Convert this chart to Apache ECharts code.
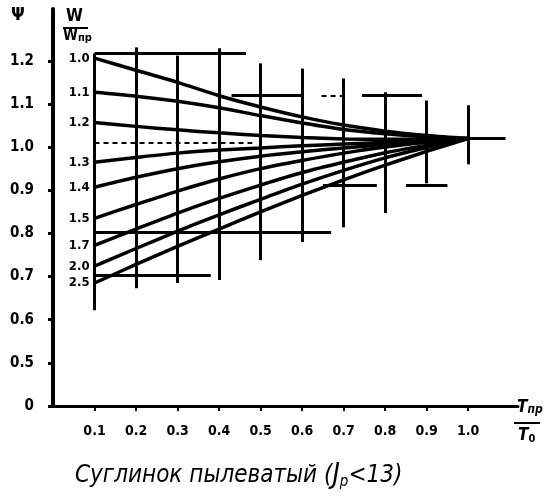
<!DOCTYPE html>
<html>
<head>
<meta charset="utf-8">
<script src="https://cdn.jsdelivr.net/npm/echarts@6/dist/echarts.min.js"></script>
<style>html,body{margin:0;padding:0;background:#fff;}#c{width:560px;height:501px;}</style>
</head>
<body>
<div id="c"></div>
<script>
// ---- data ----
const xValues = [0.1, 0.2, 0.3, 0.4, 0.5, 0.6, 0.7, 0.8, 0.9, 1.0];
const curveNames = ['1.0', '1.1', '1.2', '1.3', '1.4', '1.5', '1.7', '2.0', '2.5'];
const psi_1_0 = [1.206, 1.178, 1.150, 1.119, 1.093, 1.070, 1.051, 1.037, 1.027, 1.020];
const psi_1_1 = [1.127, 1.118, 1.106, 1.091, 1.073, 1.056, 1.041, 1.031, 1.024, 1.020];
const psi_1_2 = [1.057, 1.048, 1.040, 1.033, 1.027, 1.022, 1.019, 1.018, 1.018, 1.020];
const psi_1_3 = [0.965, 0.976, 0.986, 0.993, 0.998, 1.003, 1.007, 1.011, 1.016, 1.020];
const psi_1_4 = [0.907, 0.930, 0.950, 0.966, 0.979, 0.989, 0.998, 1.006, 1.013, 1.020];
const psi_1_5 = [0.835, 0.867, 0.898, 0.926, 0.950, 0.969, 0.986, 1.000, 1.011, 1.020];
const psi_1_7 = [0.772, 0.810, 0.847, 0.881, 0.912, 0.941, 0.965, 0.987, 1.004, 1.020];
const psi_2_0 = [0.724, 0.765, 0.805, 0.843, 0.879, 0.914, 0.946, 0.975, 0.999, 1.020];
const psi_2_5 = [0.685, 0.728, 0.770, 0.810, 0.850, 0.888, 0.924, 0.958, 0.990, 1.020];
const curves = [psi_1_0, psi_1_1, psi_1_2, psi_1_3, psi_1_4, psi_1_5, psi_1_7, psi_2_0, psi_2_5];

const xTickValues = [0.1, 0.2, 0.3, 0.4, 0.5, 0.6, 0.7, 0.8, 0.9, 1.0];
const xTickLabels = ['0.1', '0.2', '0.3', '0.4', '0.5', '0.6', '0.7', '0.8', '0.9', '1.0'];
// broken axis: the "0" label sits where 0.4 would be
const yTickValues = [0.4, 0.5, 0.6, 0.7, 0.8, 0.9, 1.0, 1.1, 1.2];
const yTickLabels = ['0', '0.5', '0.6', '0.7', '0.8', '0.9', '1.0', '1.1', '1.2'];

// hand-drawn grid: vertical segments
const vGridX = [0.1, 0.2, 0.3, 0.4, 0.5, 0.6, 0.7, 0.8, 0.9, 1.0];
const vGridTop = [1.217, 1.231, 1.212, 1.229, 1.194, 1.182, 1.159, 1.127, 1.108, 1.097];
const vGridBottom = [0.622, 0.673, 0.685, 0.692, 0.738, 0.780, 0.814, 0.847, 0.916, 0.960];
// horizontal segments
const hGridY = [1.217, 1.120, 1.120, 1.120, 1.010, 1.020, 0.912, 0.912, 0.803, 0.703];
const hGridX1 = [0.10, 0.43, 0.647, 0.744, 0.10, 0.98, 0.65, 0.85, 0.10, 0.10];
const hGridX2 = [0.465, 0.60, 0.70, 0.889, 0.48, 1.09, 0.78, 0.95, 0.67, 0.38];
const hGridDashed = [false, false, true, false, true, false, false, false, false, false];

const titleText = 'Суглинок пылеватый';

// ---- chart ----
const chart = echarts.init(document.getElementById('c'), null, {renderer: 'canvas'});
const FONT = 'DejaVu Sans Condensed';

function nearestIdx(arr, v) {
  let b = 0;
  for (let i = 1; i < arr.length; i++) if (Math.abs(arr[i] - v) < Math.abs(arr[b] - v)) b = i;
  return b;
}

const gridLines = [];
for (let i = 0; i < vGridX.length; i++) {
  gridLines.push([{coord: [vGridX[i], vGridBottom[i]]}, {coord: [vGridX[i], vGridTop[i]]}]);
}
for (let i = 0; i < hGridY.length; i++) {
  gridLines.push([
    {coord: [hGridX1[i], hGridY[i]], lineStyle: {type: hGridDashed[i] ? [5, 4] : 'solid', width: hGridDashed[i] ? 2 : 3}},
    {coord: [hGridX2[i], hGridY[i]]}
  ]);
}

const series = curves.map((arr, k) => ({
  type: 'line',
  name: curveNames[k],
  smooth: 0.3,
  showSymbol: true,
  symbol: 'circle',
  symbolSize: 0.01,
  z: 3,
  itemStyle: {color: '#000'},
  lineStyle: {color: '#000', width: 3.5},
  data: xValues.map((x, i) => i === 0 ? {
    value: [x, arr[i]],
    label: {show: true, position: 'left', distance: 5, formatter: curveNames[k],
      color: '#000', fontFamily: FONT, fontWeight: 'bold', fontSize: 13}
  } : [x, arr[i]])
}));

series.push({
  type: 'line',
  data: [],
  silent: true,
  z: 2,
  markLine: {
    silent: true,
    symbol: 'none',
    animation: false,
    label: {show: false},
    lineStyle: {color: '#000', width: 3, type: 'solid'},
    data: gridLines
  }
});

chart.setOption({
  animation: false,
  backgroundColor: '#fff',
  grid: {left: 53, right: 42, top: 9, bottom: 95},
  xAxis: {
    type: 'value', min: 0, max: 1.12,
    axisLine: {show: true, lineStyle: {color: '#000', width: 3}},
    axisTick: {show: true, customValues: xTickValues, length: 5, lineStyle: {color: '#000', width: 2}},
    axisLabel: {show: true, customValues: xTickValues, margin: 18, color: '#000',
      fontFamily: FONT, fontWeight: 'bold', fontSize: 14,
      formatter: v => xTickLabels[nearestIdx(xTickValues, v)]},
    splitLine: {show: false}
  },
  yAxis: {
    type: 'value', min: 0.4, max: 1.32,
    axisLine: {show: true, onZero: false, lineStyle: {color: '#000', width: 4}},
    axisTick: {show: true, customValues: yTickValues, length: 5, lineStyle: {color: '#000', width: 3}},
    axisLabel: {show: true, customValues: yTickValues, margin: 19, color: '#000',
      fontFamily: FONT, fontWeight: 'bold', fontSize: 15,
      formatter: v => yTickLabels[nearestIdx(yTickValues, v)]},
    splitLine: {show: false}
  },
  title: {
    text: '{m|' + titleText + ' (}{j|J}{s|р}{m|<13)}',
    left: 70, top: 457,
    textStyle: {
      fontWeight: 'normal',
      rich: {
        m: {fontFamily: 'DejaVu Sans Condensed', fontStyle: 'italic', fontWeight: 'normal', fontSize: 24, color: '#000'},
        j: {fontFamily: 'DejaVu Sans Condensed', fontStyle: 'italic', fontWeight: 'normal', fontSize: 28, color: '#000'},
        s: {fontFamily: 'DejaVu Sans Condensed', fontStyle: 'italic', fontWeight: 'normal', fontSize: 15, color: '#000', verticalAlign: 'bottom', padding: [10, 0, 0, 0]}
      }
    }
  },
  graphic: [
    {type: 'text', left: 11, top: 6, style: {text: 'Ψ', fontFamily: FONT, fontWeight: 'bold', fontSize: 18, fill: '#000'}},
    {type: 'text', left: 66, top: 8, style: {text: 'W', fontFamily: FONT, fontWeight: 'bold', fontSize: 17, fill: '#000'}},
    {type: 'line', shape: {x1: 63, y1: 28, x2: 88, y2: 28}, style: {stroke: '#000', lineWidth: 2}},
    {type: 'text', left: 63, top: 29, style: {text: '{a|W}{b|пр}', rich: {
      a: {fontFamily: FONT, fontWeight: 'bold', fontSize: 15, fill: '#000'},
      b: {fontFamily: FONT, fontWeight: 'bold', fontSize: 11, fill: '#000', padding: [4, 0, 0, 0]}}}},
    {type: 'text', left: 517, top: 399, style: {text: '{a|T}{b|пр}', rich: {
      a: {fontFamily: FONT, fontStyle: 'italic', fontWeight: 'bold', fontSize: 17, fill: '#000'},
      b: {fontFamily: FONT, fontStyle: 'italic', fontWeight: 'bold', fontSize: 12, fill: '#000', padding: [5, 0, 0, 0]}}}},
    {type: 'line', shape: {x1: 514, y1: 423, x2: 540, y2: 423}, style: {stroke: '#000', lineWidth: 2}},
    {type: 'text', left: 518, top: 427, style: {text: '{a|T}{b|0}', rich: {
      a: {fontFamily: FONT, fontStyle: 'italic', fontWeight: 'bold', fontSize: 17, fill: '#000'},
      b: {fontFamily: FONT, fontWeight: 'bold', fontSize: 11, fill: '#000', padding: [8, 0, 0, 0]}}}}
  ],
  series: series
});
</script>
</body>
</html>
